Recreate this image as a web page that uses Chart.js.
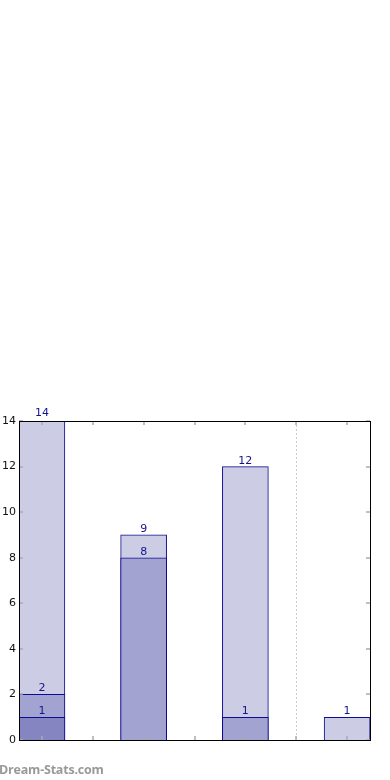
<!DOCTYPE html>
<html lang="en">
<head>
  <meta charset="UTF-8">
  <title>Counts</title>
  <script src="https://cdn.jsdelivr.net/npm/chart.js"></script>
  <style>
    html, body { margin: 0; padding: 0; background: #fff; }
    #wrap { position: relative; width: 390px; height: 780px; }
    #brand {
      position: absolute; left: -1px; top: 761px;
      font: 700 12.5px "Open Sans", sans-serif; color: #999;
      letter-spacing: -0.2px;
    }
  </style>
</head>
<body>
  <div id="wrap">
    <canvas id="chart" width="390" height="780"></canvas>
    <div id="brand">Dream-Stats.com</div>
  </div>

  <script>
    // bar positions on the x axis (slots 0..6, bars sit on every second one)
    const barSlots = [0, 2, 4, 6];
    const totalCounts = [14, 9, 12, 1];
    const midCounts = [2, 8, 1, null];
    const lowCounts = [1, null, null, null];
    const yTicks = [0, 2, 4, 6, 8, 10, 12, 14];
    const xTickSlots = [0, 1, 2, 3, 4, 5, 6];
    const dividerAt = 5;

    const toPoints = vals => barSlots
      .map((x, i) => ({ x: x, y: vals[i] }))
      .filter(p => p.y !== null);

    const edge = '#0c0c92';

    // frame, inward ticks, dotted divider and value labels
    const decor = {
      id: 'decor',
      beforeDatasetsDraw(chart) {
        const { ctx, chartArea: a, scales: { x } } = chart;
        const px = Math.round(x.getPixelForValue(dividerAt)) + 0.5;
        ctx.save();
        ctx.strokeStyle = '#cccccc';
        ctx.lineWidth = 1;
        ctx.setLineDash([2, 2]);
        ctx.beginPath();
        ctx.moveTo(px, a.top);
        ctx.lineTo(px, a.bottom);
        ctx.stroke();
        ctx.restore();
      },
      afterDatasetsDraw(chart) {
        const { ctx, chartArea: a, scales: { x, y } } = chart;
        ctx.save();
        ctx.strokeStyle = '#aaaaaa';
        ctx.lineWidth = 1.5;
        xTickSlots.forEach(v => {
          const px = Math.round(x.getPixelForValue(v));
          ctx.beginPath();
          ctx.moveTo(px, a.bottom); ctx.lineTo(px, a.bottom - 4);
          ctx.moveTo(px, a.top); ctx.lineTo(px, a.top + 4);
          ctx.stroke();
        });
        yTicks.forEach(v => {
          const py = Math.round(y.getPixelForValue(v));
          ctx.beginPath();
          ctx.moveTo(a.left, py); ctx.lineTo(a.left + 4, py);
          ctx.moveTo(a.right, py); ctx.lineTo(a.right - 4, py);
          ctx.stroke();
        });

        ctx.strokeStyle = '#000';
        ctx.lineWidth = 1;
        ctx.strokeRect(Math.round(a.left) + 0.5, Math.round(a.top) + 0.5,
          Math.round(a.right - a.left), Math.round(a.bottom - a.top));

        ctx.fillStyle = '#14148c';
        ctx.font = '11px "DejaVu Sans"';
        ctx.textAlign = 'center';
        ctx.textBaseline = 'alphabetic';
        chart.data.datasets.forEach((ds, di) => {
          const meta = chart.getDatasetMeta(di);
          meta.data.forEach((bar, i) => {
            const lift = ds.data[i].y === 14 ? 5 : 3;
            ctx.fillText(String(ds.data[i].y), bar.x, bar.y - lift);
          });
        });
        ctx.restore();
      }
    };

    new Chart(document.getElementById('chart'), {
      type: 'bar',
      data: {
        datasets: [
          { data: toPoints(lowCounts), backgroundColor: '#8585c2', order: 1 },
          { data: toPoints(midCounts), backgroundColor: '#a3a3d1', order: 2 },
          { data: toPoints(totalCounts), backgroundColor: '#ccccE5', order: 3 }
        ]
      },
      options: {
        responsive: false,
        animation: false,
        events: [],
        layout: { padding: { top: 421, right: 20, bottom: 0, left: 0 } },
        datasets: {
          bar: {
            grouped: false,
            barThickness: 46,
            borderColor: edge,
            borderWidth: 1
          }
        },
        plugins: { legend: { display: false }, tooltip: { enabled: false } },
        scales: {
          x: {
            type: 'linear',
            offset: false,
            min: -0.45,
            max: 6.45,
            ticks: { display: false },
            grid: { display: false, drawTicks: false },
            border: { display: false },
            afterFit: s => { s.height = 40; }
          },
          y: {
            min: 0,
            max: 14,
            ticks: {
              stepSize: 2,
              padding: 3,
              color: '#111',
              font: { family: 'DejaVu Sans', size: 11 }
            },
            grid: { display: false, drawTicks: false },
            border: { display: false },
            afterFit: s => { s.width = 19; }
          }
        }
      },
      plugins: [decor]
    });
  </script>
</body>
</html>
